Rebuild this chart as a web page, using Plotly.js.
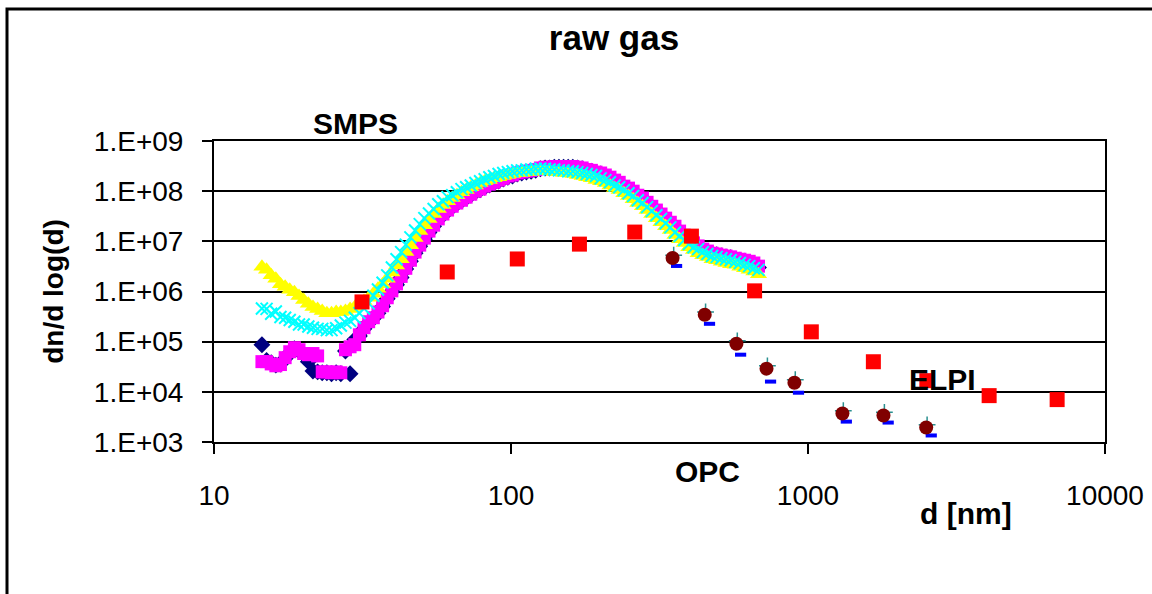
<!DOCTYPE html>
<html><head><meta charset="utf-8">
<script src="https://cdn.plot.ly/plotly-3.0.1.min.js"></script>
<style>html,body{margin:0;padding:0;background:#fff}</style>
</head><body><div id="chart" style="width:1152px;height:594px"></div>
<script>
// SMPS channel diameters (nm)
const smpsD = [14.5,15.03,15.58,16.15,16.74,17.36,17.99,18.65,19.33,20.04,
20.78,21.54,22.33,23.14,23.99,24.87,25.78,26.73,27.71,28.72,
29.78,30.87,32.0,33.17,34.39,35.65,36.95,38.31,39.71,41.17,
42.67,44.24,45.85,47.53,49.28,51.08,52.95,54.89,56.9,58.99,
61.15,63.39,65.71,68.12,70.62,73.2,75.89,78.67,81.54,84.53,
87.63,90.84,94.17,97.62,101.2,104.9,108.7,112.7,116.9,121.1,
125.6,130.2,134.9,139.9,145.0,150.3,155.8,161.5,167.4,173.6,
179.9,186.5,193.3,200.4,207.8,215.4,223.3,231.4,239.9,248.7,
257.8,267.3,277.1,287.2,297.8,308.7,320.0,331.7,343.9,356.5,
369.5,383.1,397.1,411.7,426.7,442.4,458.5,475.3,492.8,510.8,
529.5,548.9,569.0,589.9,611.5,633.9,657.2,681.3];

const smpsNavy = [8.7e4,4.2e4,3.8e4,3.4e4,3.6e4,4.6e4,6.0e4,7.2e4,6.6e4,5.6e4,
4.0e4,2.6e4,2.5e4,2.4e4,2.4e4,2.3e4,2.4e4,2.3e4,6.5e4,2.3e4,
1.1e5,1.3e5,1.8e5,2.4e5,2.9e5,3.7e5,5.0e5,7.2e5,1.0e6,1.36e6,
1.9e6,2.8e6,4.0e6,5.8e6,8.0e6,1.1e7,1.5e7,2.0e7,2.7e7,3.4e7,
4.0e7,4.8e7,5.6e7,6.4e7,7.3e7,8.4e7,9.6e7,1.06e8,1.2e8,1.32e8,
1.45e8,1.6e8,1.74e8,1.9e8,2.0e8,2.2e8,2.3e8,2.4e8,2.5e8,2.6e8,
2.8e8,2.9e8,2.9e8,3.0e8,3.0e8,3.0e8,3.0e8,3.0e8,2.9e8,2.8e8,
2.6e8,2.5e8,2.3e8,2.2e8,2.0e8,1.8e8,1.6e8,1.45e8,1.2e8,1.1e8,
9.6e7,8.0e7,7.0e7,5.8e7,4.8e7,4.0e7,3.4e7,2.8e7,2.3e7,1.9e7,
1.55e7,1.28e7,1.06e7,9.0e6,7.8e6,6.7e6,6.1e6,5.6e6,5.4e6,5.1e6,
4.9e6,4.7e6,4.4e6,4.2e6,4.0e6,3.8e6,3.5e6,3.0e6];

const smpsMagenta = [4.0e4,4.0e4,3.6e4,3.3e4,3.5e4,4.8e4,6.3e4,7.6e4,6.9e4,5.8e4,
5.5e4,5.8e4,5.2e4,2.5e4,2.5e4,2.4e4,2.5e4,2.4e4,6.9e4,7.9e4,
8.7e4,1.37e5,1.9e5,2.5e5,3.0e5,3.9e5,5.2e5,7.5e5,1.03e6,1.42e6,
2.0e6,2.9e6,4.2e6,6.1e6,8.4e6,1.16e7,1.6e7,2.1e7,2.8e7,3.5e7,
4.2e7,5.0e7,5.8e7,6.6e7,7.6e7,8.7e7,1.0e8,1.1e8,1.26e8,1.38e8,
1.5e8,1.66e8,1.8e8,2.0e8,2.1e8,2.3e8,2.4e8,2.5e8,2.6e8,2.7e8,
2.9e8,3.0e8,3.0e8,3.1e8,3.1e8,3.1e8,3.1e8,3.1e8,3.0e8,2.9e8,
2.7e8,2.6e8,2.4e8,2.3e8,2.1e8,1.9e8,1.66e8,1.5e8,1.26e8,1.15e8,
1.0e8,8.3e7,7.3e7,6.0e7,5.0e7,4.2e7,3.5e7,2.9e7,2.4e7,2.0e7,
1.6e7,1.33e7,1.1e7,9.3e6,8.1e6,7.0e6,6.4e6,5.8e6,5.6e6,5.3e6,
5.1e6,4.9e6,4.6e6,4.4e6,4.2e6,4.0e6,3.7e6,3.2e6];

const smpsYellow = [3.1e6,2.7e6,2.1e6,1.8e6,1.4e6,1.25e6,1.08e6,9.7e5,8.1e5,6.8e5,
5.7e5,4.9e5,4.5e5,4.1e5,3.7e5,3.7e5,3.9e5,3.9e5,4.1e5,4.5e5,
4.9e5,5.4e5,6.5e5,7.5e5,9.0e5,1.13e6,1.4e6,1.8e6,2.4e6,3.3e6,
4.4e6,6.1e6,8.4e6,1.16e7,1.6e7,2.1e7,2.8e7,3.5e7,4.4e7,5.3e7,
6.3e7,7.3e7,8.3e7,9.5e7,1.05e8,1.2e8,1.3e8,1.45e8,1.58e8,1.66e8,
1.8e8,1.9e8,2.0e8,2.1e8,2.2e8,2.3e8,2.3e8,2.4e8,2.4e8,2.5e8,
2.5e8,2.5e8,2.5e8,2.4e8,2.4e8,2.3e8,2.3e8,2.2e8,2.1e8,2.0e8,
1.9e8,1.8e8,1.66e8,1.58e8,1.45e8,1.3e8,1.15e8,1.05e8,9.1e7,8.0e7,
6.9e7,5.8e7,5.0e7,4.2e7,3.5e7,2.9e7,2.4e7,2.0e7,1.68e7,1.33e7,
1.1e7,9.3e6,7.6e6,6.7e6,5.8e6,5.3e6,4.9e6,4.4e6,4.2e6,3.9e6,
3.7e6,3.5e6,3.4e6,3.1e6,2.9e6,2.7e6,2.5e6,2.2e6];

const smpsCyan = [4.6e5,4.5e5,3.6e5,4.0e5,3.1e5,3.0e5,2.7e5,2.5e5,2.2e5,2.2e5,
2.0e5,1.9e5,1.8e5,1.8e5,1.7e5,1.7e5,1.85e5,2.1e5,2.4e5,2.6e5,
3.0e5,3.7e5,4.6e5,5.8e5,8.2e5,1.1e6,1.5e6,2.1e6,3.0e6,4.4e6,
6.1e6,8.6e6,1.2e7,1.65e7,2.2e7,2.9e7,3.6e7,4.4e7,5.5e7,6.3e7,
7.6e7,8.3e7,9.5e7,1.1e8,1.2e8,1.3e8,1.45e8,1.58e8,1.73e8,1.9e8,
2.0e8,2.2e8,2.3e8,2.4e8,2.5e8,2.6e8,2.6e8,2.7e8,2.7e8,2.8e8,
2.8e8,2.8e8,2.7e8,2.7e8,2.6e8,2.6e8,2.5e8,2.5e8,2.4e8,2.3e8,
2.2e8,2.1e8,2.0e8,1.8e8,1.66e8,1.5e8,1.3e8,1.2e8,1.05e8,9.1e7,
8.0e7,6.6e7,5.8e7,4.8e7,4.0e7,3.3e7,2.8e7,2.3e7,1.9e7,1.5e7,
1.27e7,1.06e7,8.8e6,7.6e6,7.0e6,6.1e6,5.6e6,5.1e6,4.9e6,4.6e6,
4.4e6,4.2e6,3.9e6,3.7e6,3.4e6,3.2e6,2.9e6,2.7e6];

// ELPI
const elpiD = [31.5,61,105,170,261,405,661,1026,1660,2513,4073,6900];
const elpiN = [6.2e5,2.45e6,4.45e6,8.8e6,1.53e7,1.27e7,1.03e6,1.57e5,3.98e4,1.67e4,8.4e3,7.0e3];

// OPC
const opcD = [350,449,574,725,900,1306,1795,2500];
const opcN = [4.66e6,3.43e5,9.1e4,2.9e4,1.52e4,3.7e3,3.37e3,1.94e3];
const opcBlueD = [361,466,593,748,929,1346,1862,2600];
const opcBlueN = [3.23e6,2.27e5,5.5e4,1.6e4,9.6e3,2.55e3,2.44e3,1.35e3];
const opcTealD = [353,452,578,730,906,1315,1808,2518];
const opcTealN = [5.3e6,3.9e5,1.04e5,3.3e4,1.75e4,4.2e3,3.9e3,2.2e3];

const yTickVals = [1e3,1e4,1e5,1e6,1e7,1e8,1e9];
const yTickText = ["1.E+03","1.E+04","1.E+05","1.E+06","1.E+07","1.E+08","1.E+09"];
const xTickVals = [10,100,1000,10000];
const xTickText = ["10","100","1000","10000"];

const FONT = "Liberation Sans, Arial, sans-serif";

function sc(x, y, marker, name) {
  return {type:'scatter', mode:'markers', x:x, y:y, name:name, marker:marker, hoverinfo:'x+y', cliponaxis:true};
}

const traces = [
  sc(smpsD, smpsNavy, {symbol:'diamond', size:13, color:'#000080', line:{width:0}}, 'SMPS 1'),
  sc(smpsD, smpsMagenta, {symbol:'square', size:13, color:'#FF00FF', line:{width:0}}, 'SMPS 2'),
  sc(smpsD, smpsYellow, {symbol:'triangle-up', size:15, color:'#FFFF00', line:{width:0}}, 'SMPS 3'),
  sc(smpsD, smpsCyan, {symbol:'x-thin', size:12, color:'#00FFFF', line:{width:2, color:'#00FFFF'}}, 'SMPS 4'),
  sc(elpiD, elpiN, {symbol:'square', size:15, color:'#FF0000', line:{width:0}}, 'ELPI'),
  sc(opcTealD, opcTealN, {symbol:'cross-thin', size:12, color:'#2A9090', line:{width:1.5, color:'#2A9090'}}, 'OPC 3'),
  sc(opcBlueD, opcBlueN, {symbol:'line-ew', size:8, color:'#0000FF', line:{width:4, color:'#0000FF'}}, 'OPC 2'),
  sc(opcD, opcN, {symbol:'circle', size:14, color:'#800000', line:{width:0}}, 'OPC 1')
];

const W = 891, H = 301, L = 214, B = 442;
function px(x){ return (x - L) / W; }
function py(y){ return (B - y) / H; }

const boldFont = {family:FONT, size:30, color:'#000'};

const layout = {
  width:1152, height:594,
  margin:{l:214, r:47, t:141, b:152},
  paper_bgcolor:'#fff', plot_bgcolor:'#fff',
  showlegend:false,
  font:{family:FONT, size:28, color:'#000'},
  title:{text:'<b>raw gas</b>', font:{family:FONT, size:35, color:'#000'},
         x:614/1152, xanchor:'center', xref:'container', y:1-38/594, yanchor:'middle', yref:'container'},
  xaxis:{type:'log', range:[1,4], tickmode:'array', tickvals:xTickVals, ticktext:xTickText,
         ticks:'outside', ticklen:10, tickwidth:2, tickcolor:'#000',
         showline:true, linecolor:'#000', linewidth:2, mirror:true,
         showgrid:false, zeroline:false, ticklabelstandoff:17,
         tickfont:{family:FONT, size:28, color:'#000'}},
  yaxis:{type:'log', range:[3,9], tickmode:'array', tickvals:yTickVals, ticktext:yTickText,
         ticks:'outside', ticklen:10, tickwidth:2, tickcolor:'#000',
         showline:true, linecolor:'#000', linewidth:2, mirror:true,
         showgrid:true, gridcolor:'#000', gridwidth:2, zeroline:false,
         ticklabelstandoff:13,
         tickfont:{family:FONT, size:28, color:'#000'},
         title:{text:'<b>dn/d log(d)</b>', font:{family:FONT, size:28, color:'#000'}, standoff:22}},
  annotations:[
    {text:'<b>SMPS</b>', x:px(355), y:py(123), xref:'paper', yref:'paper', showarrow:false, xanchor:'center', yanchor:'middle', font:boldFont},
    {text:'<b>OPC</b>', x:px(707), y:py(471), xref:'paper', yref:'paper', showarrow:false, xanchor:'center', yanchor:'middle', font:boldFont},
    {text:'<b>d [nm]</b>', x:px(966), y:py(513), xref:'paper', yref:'paper', showarrow:false, xanchor:'center', yanchor:'middle', font:boldFont},
    {text:'<b>ELPI</b>', x:px(942), y:py(379), xref:'paper', yref:'paper', showarrow:false, xanchor:'center', yanchor:'middle', font:boldFont}
  ],
  shapes:[
    {type:'rect', xref:'paper', yref:'paper', x0:px(7), x1:px(1170), y0:py(9), y1:py(620),
     line:{color:'#000', width:3}, fillcolor:'rgba(0,0,0,0)', layer:'above'}
  ]
};

Plotly.newPlot('chart', traces, layout, {displayModeBar:false, staticPlot:true});
</script>
</body></html>
